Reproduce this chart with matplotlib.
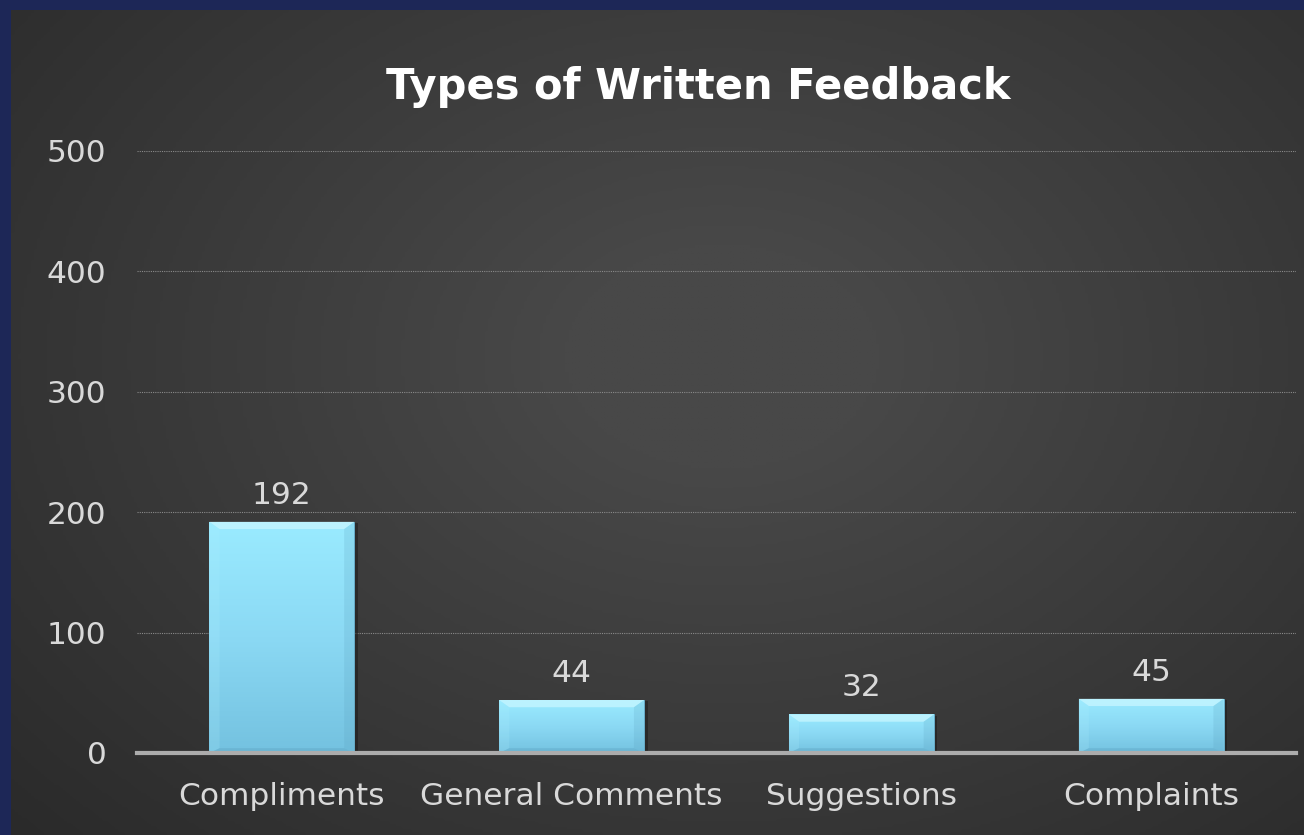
import numpy as np
import matplotlib
matplotlib.use("Agg")
import matplotlib.pyplot as plt

plt.rcParams["font.family"] = ["DejaVu Sans"]

# datos
categorias = ["Compliments", "General Comments", "Suggestions", "Complaints"]
valores = [192, 44, 32, 45]
ticks_y = [0, 100, 200, 300, 400, 500]
titulo = "Types of Written Feedback"

W, H = 1304, 835
figura = plt.figure(figsize=(W / 100, H / 100), dpi=100)
figura.patch.set_facecolor("#1d2757")

# panel oscuro con degradado radial
fondo = figura.add_axes([11 / W, 0, 1 - 11 / W, 1 - 10 / H])
fondo.set_axis_off()
yy, xx = np.mgrid[0:1:300j, 0:1:400j]
d = np.sqrt(((xx - 0.55) / 0.8) ** 2 + ((yy - 0.42) / 0.9) ** 2)
grad = np.clip(1 - d, 0, 1)
fondo.imshow(grad, cmap=matplotlib.colors.LinearSegmentedColormap.from_list(
    "g", ["#282828", "#484848"]), aspect="auto", extent=[0, 1, 0, 1],
    vmin=0, vmax=0.85)
fondo.set_xlim(0, 1)
fondo.set_ylim(0, 1)

ax = figura.add_axes([137 / W, 82 / H, (1296 - 137) / W, (753 - 151) / H])
ax.set_facecolor("none")
x = np.arange(len(categorias))
barras = ax.bar(x, valores, width=0.5, color="#8fdcf5", zorder=3,
                edgecolor="#6ab4d2", linewidth=0.6)

cmap_barra = matplotlib.colors.LinearSegmentedColormap.from_list(
    "b", ["#74c2e0", "#8bd9f4", "#9aebff"])
for b in barras:
    x0, y0 = b.get_x(), b.get_y()
    w, h = b.get_width(), b.get_height()
    # sombra a la derecha
    ax.fill([x0 + w, x0 + w + 0.012, x0 + w + 0.012, x0 + w],
            [0, 0, h - 1, h - 1], color="#1a1a1a", alpha=0.5, zorder=2.9,
            linewidth=0)
    img = ax.imshow(np.linspace(0, 1, 100).reshape(-1, 1), cmap=cmap_barra,
                    origin="lower", aspect="auto",
                    extent=[x0, x0 + w, y0, y0 + h], zorder=3.5)
    img.set_clip_path(b)
    # bisel
    ax.fill([x0, x0 + w, x0 + w - 0.035, x0 + 0.035],
            [h, h, h - 6, h - 6], color="#c8f6ff", alpha=0.75, zorder=4,
            linewidth=0)
    ax.fill([x0, x0 + 0.035, x0 + 0.035, x0],
            [0, 4, h - 6, h], color="#b0f0ff", alpha=0.2, zorder=4,
            linewidth=0)
    ax.fill([x0 + w, x0 + w - 0.035, x0 + w - 0.035, x0 + w],
            [0, 4, h - 6, h], color="#5a9fbd", alpha=0.2, zorder=4,
            linewidth=0)
    ax.fill([x0, x0 + w, x0 + w - 0.035, x0 + 0.035],
            [0, 0, 4, 4], color="#5a9fbd", alpha=0.35, zorder=4,
            linewidth=0)

for xi, v in zip(x, valores):
    ax.text(xi, v + 10, str(v), ha="center", va="bottom", color="#d9d9d9",
            fontsize=22.5, zorder=5)

ax.set_xlim(-0.5, len(categorias) - 0.5)
ax.set_ylim(0, 500)
ax.set_yticks(ticks_y)
ax.set_xticks(x)
ax.set_xticklabels(categorias)
ax.tick_params(axis="both", length=0, colors="#d9d9d9", labelsize=22.5)
ax.tick_params(axis="y", pad=22)
ax.tick_params(axis="x", pad=21)
for s in ax.spines.values():
    s.set_visible(False)
ax.yaxis.grid(True, linestyle=(0, (1, 1)), color="#8a8a8a", linewidth=0.8)
ax.set_axisbelow(True)
ax.axhline(0, color="#acacac", linewidth=3, zorder=4.5, clip_on=False)

figura.text(698 / W, 1 - 87 / H, titulo, ha="center", va="center",
            color="white", fontsize=30, fontweight="bold")

figura.savefig("out.png", dpi=100, facecolor=figura.get_facecolor())
